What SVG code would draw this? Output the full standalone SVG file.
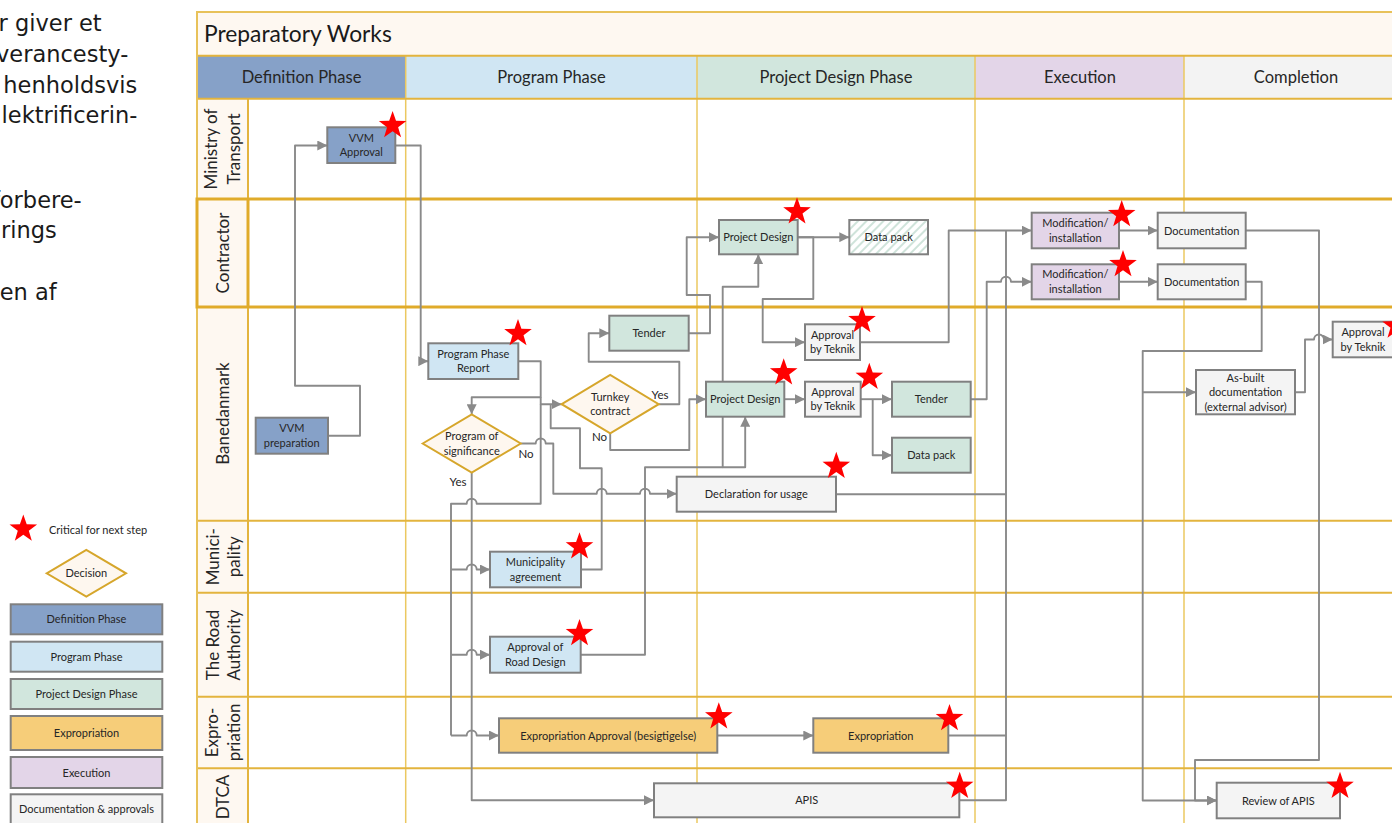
<svg xmlns="http://www.w3.org/2000/svg" width="1392" height="823" viewBox="0 0 1392 823">
<style>
.bx{stroke:#808080;stroke-width:2}
.def{fill:#86a1c8}.prog{fill:#d0e6f3}.pd{fill:#d1e6dd}.expr{fill:#f6cd79}.exe{fill:#e3d5e8}.doc{fill:#f4f4f4}
.dia{fill:#fef7ef;stroke:#d6a62b;stroke-width:2}
.t{font-family:Lato,"Liberation Sans",sans-serif;font-size:11px;fill:#262626;text-anchor:middle}
.lbl{font-family:Lato,"Liberation Sans",sans-serif;font-size:11.5px;fill:#262626;text-anchor:middle}
.hd{font-family:Lato,"Liberation Sans",sans-serif;font-size:16.5px;fill:#262626;text-anchor:middle}
.ln{font-family:Lato,"Liberation Sans",sans-serif;font-size:17px;fill:#262626;text-anchor:middle}
.dk{font-family:"DejaVu Sans",Verdana,sans-serif;font-size:22.5px;fill:#1a1a1a;text-anchor:end}
.con{fill:none;stroke:#8a8a8a;stroke-width:1.9;stroke-linejoin:round}
.lane{stroke:#e3b43e;stroke-width:2}
.col{stroke:#ebc860;stroke-width:1.5}
.star{fill:#ff0000}
</style>
<defs>
<marker id="arr" markerWidth="10" markerHeight="10" refX="10" refY="5" orient="auto" markerUnits="userSpaceOnUse">
<path d="M0,0 L10,5 L0,10 z" fill="#8a8a8a"/>
</marker>
<pattern id="hatch" width="6" height="6" patternUnits="userSpaceOnUse" patternTransform="rotate(45)">
<rect width="6" height="6" fill="#ffffff"/>
<line x1="1" y1="0" x2="1" y2="6" stroke="#cfe3da" stroke-width="2"/>
</pattern>
<path id="star" d="M0,-14.5 L3.41,-4.69 L13.79,-4.48 L5.52,1.79 L8.52,11.73 L0,5.8 L-8.52,11.73 L-5.52,1.79 L-13.79,-4.48 L-3.41,-4.69 Z"/>
</defs>

<g id="sidetext">
<text class="dk" x="101.7" y="31">r giver et</text>
<text class="dk" x="128.3" y="62">verancesty-</text>
<text class="dk" x="137.3" y="93">henholdsvis</text>
<text class="dk" x="137.3" y="123">lektrificerin-</text>
<text class="dk" x="81.7" y="208">forbere-</text>
<text class="dk" x="56.7" y="237.5">rings</text>
<text class="dk" x="56.7" y="300">en af</text>
</g>

<g id="frame">
<rect x="197" y="12" width="1210" height="820" fill="#ffffff"/>
<rect x="197" y="12" width="1210" height="43.7" fill="#fef8f1"/>
<rect x="197" y="98.7" width="51" height="730" fill="#fef8f1"/>
<rect x="197" y="55.7" width="208.7" height="43" fill="#86a1c8"/>
<rect x="405.7" y="55.7" width="291.3" height="43" fill="#d0e6f3"/>
<rect x="697" y="55.7" width="278" height="43" fill="#d1e6dd"/>
<rect x="975" y="55.7" width="209" height="43" fill="#e3d5e8"/>
<rect x="1184" y="55.7" width="220" height="43" fill="#f3f3f3"/>
<line class="col" x1="405.7" y1="55.7" x2="405.7" y2="823"/>
<line class="col" x1="697" y1="55.7" x2="697" y2="823"/>
<line class="col" x1="975" y1="55.7" x2="975" y2="823"/>
<line class="col" x1="1184" y1="55.7" x2="1184" y2="823"/>
<line class="lane" x1="248" y1="98.7" x2="248" y2="823"/>
<line class="lane" x1="197" y1="55.7" x2="1400" y2="55.7"/>
<line class="lane" x1="197" y1="98.7" x2="1400" y2="98.7"/>
<line class="lane" x1="197" y1="520.7" x2="1400" y2="520.7"/>
<line class="lane" x1="197" y1="592.7" x2="1400" y2="592.7"/>
<line class="lane" x1="197" y1="696.7" x2="1400" y2="696.7"/>
<line class="lane" x1="197" y1="768.3" x2="1400" y2="768.3"/>
<rect x="197" y="12" width="1210" height="820" fill="none" stroke="#e8c25a" stroke-width="2"/>
<rect x="197" y="199" width="1210" height="108" fill="none" stroke="#e0ab2a" stroke-width="3"/>
<line x1="248" y1="199" x2="248" y2="307" stroke="#e0ab2a" stroke-width="3"/>
<text x="204" y="41.5" font-family="Lato, 'Liberation Sans', sans-serif" font-size="22.8" fill="#1a1a1a">Preparatory Works</text>
<text class="hd" x="301.5" y="82.5">Definition Phase</text>
<text class="hd" x="551.5" y="82.5">Program Phase</text>
<text class="hd" x="836" y="82.5">Project Design Phase</text>
<text class="hd" x="1080" y="82.5">Execution</text>
<text class="hd" x="1296" y="82.5">Completion</text>
<text class="ln" transform="translate(217,149) rotate(-90)">Ministry of</text>
<text class="ln" transform="translate(239.5,149) rotate(-90)">Transport</text>
<text class="ln" transform="translate(228.5,253) rotate(-90)">Contractor</text>
<text class="ln" transform="translate(228.5,413.5) rotate(-90)">Banedanmark</text>
<text class="ln" transform="translate(219,556.7) rotate(-90)">Munici-</text>
<text class="ln" transform="translate(239.5,556.7) rotate(-90)">pality</text>
<text class="ln" transform="translate(219,645) rotate(-90)">The Road</text>
<text class="ln" transform="translate(239.5,645) rotate(-90)">Authority</text>
<text class="ln" transform="translate(217.5,732.5) rotate(-90)">Expro-</text>
<text class="ln" transform="translate(239.5,732.5) rotate(-90)">priation</text>
<text class="ln" transform="translate(228.5,797) rotate(-90)">DTCA</text>
</g>

<g id="connectors">
<path class="con" marker-end="url(#arr)" d="M328,435.7 H360 V385.7 H295 V145.5 H327.3"/>
<path class="con" marker-end="url(#arr)" d="M395.3,145.5 H420.7 V361.2 H428.3"/>
<path class="con" marker-end="url(#arr)" d="M518.3,361.2 H540.7 V397.3 H471.7 V414.3"/>
<path class="con" marker-end="url(#arr)" d="M540.7,397.3 V404.2 H561.7"/>
<path class="con" d="M540.7,404.2 V503.8 H476.7 A5,5 0 0 0 466.7,503.8 H451 V735.5"/>
<path class="con" marker-end="url(#arr)" d="M451,569.5 H466.7 A5,5 0 0 1 476.7,569.5 H490"/>
<path class="con" marker-end="url(#arr)" d="M451,654.7 H466.7 A5,5 0 0 1 476.7,654.7 H490"/>
<path class="con" marker-end="url(#arr)" d="M451,735.5 H466.7 A5,5 0 0 1 476.7,735.5 H499"/>
<path class="con" marker-end="url(#arr)" d="M471.7,472.7 V800.3 H654"/>
<path class="con" marker-end="url(#arr)" d="M520.7,443.5 H535.7 A5,5 0 0 1 545.7,443.5 H553.3 V493.8 H596.7 A5,5 0 0 1 606.7,493.8 H640 A5,5 0 0 1 650,493.8 H676.7"/>
<path class="con" d="M581,569.5 H601.7 V468.3 H580 V428.3 H550.7 V404.2"/>
<path class="con" marker-end="url(#arr)" d="M580.7,654.7 H645 V467.3 H722.7 V286.7 H758.3 V254.3"/>
<path class="con" marker-end="url(#arr)" d="M722.7,467.3 H745.2 V416.7"/>
<path class="con" marker-end="url(#arr)" d="M658.7,404.2 H679.3 V361.7 H588.7 V333.2 H609.3"/>
<path class="con" marker-end="url(#arr)" d="M610.2,433.4 V450 H689.3 V399.2 H706"/>
<path class="con" marker-end="url(#arr)" d="M688.7,333.2 H710 V295 H686.7 V237.2 H719"/>
<path class="con" marker-end="url(#arr)" d="M797.7,237.2 H849.3"/>
<path class="con" marker-end="url(#arr)" d="M797.7,237.2 H813.3 V299 H762.7 V342.2 H805"/>
<path class="con" marker-end="url(#arr)" d="M784.3,399.2 H805"/>
<path class="con" marker-end="url(#arr)" d="M860.7,399.2 H892"/>
<path class="con" marker-end="url(#arr)" d="M872.7,399.2 V455.2 H892"/>
<path class="con" marker-end="url(#arr)" d="M860,342.2 H948.7 V230.5 H1031.7"/>
<path class="con" marker-end="url(#arr)" d="M970.7,399.2 H986.7 V281.8 H1001 A5,5 0 0 1 1011,281.8 H1031.7"/>
<path class="con" d="M836,494.2 H1006"/>
<path class="con" d="M948.3,735.5 H1006"/>
<path class="con" d="M959.3,800.3 H1006 V230.5"/>
<path class="con" marker-end="url(#arr)" d="M717.3,735.5 H813.3"/>
<path class="con" marker-end="url(#arr)" d="M1119,230.5 H1157.7"/>
<path class="con" marker-end="url(#arr)" d="M1119,281.8 H1157.7"/>
<path class="con" marker-end="url(#arr)" d="M1245.7,230.5 H1319 V760 H1195 V800.5 H1216.7"/>
<path class="con" marker-end="url(#arr)" d="M1245.7,281.8 H1261.7 V351 H1142.7 V800.5 H1216.7"/>
<path class="con" marker-end="url(#arr)" d="M1142.7,392.2 H1196"/>
<path class="con" marker-end="url(#arr)" d="M1295,392.2 H1305 V339.5 H1314 A5,5 0 0 1 1324,339.5 H1332.7"/>
</g>

<g id="vvm-approval"><rect class="bx def" x="327.3" y="127.3" width="68" height="35.7"/><text class="t" x="361.3" y="141.7">VVM</text><text class="t" x="361.3" y="156">Approval</text></g>
<g id="vvm-preparation"><rect class="bx def" x="255.7" y="417.7" width="72.3" height="36"/><text class="t" x="291.8" y="432">VVM</text><text class="t" x="291.8" y="446.5">preparation</text></g>
<g id="program-phase-report"><rect class="bx prog" x="428.3" y="343.3" width="90" height="35.7"/><text class="t" x="473.3" y="357.7">Program Phase</text><text class="t" x="473.3" y="372.2">Report</text></g>
<g id="program-of-significance"><path class="dia" d="M422.7,443.5 L471.7,414.3 L520.7,443.5 L471.7,472.7 Z"/><text class="t" x="471.7" y="440">Program of</text><text class="t" x="471.7" y="454.5">significance</text></g>
<g id="turnkey-contract"><path class="dia" d="M561.7,404.2 L610.2,375 L658.7,404.2 L610.2,433.4 Z"/><text class="t" x="610.2" y="400.7">Turnkey</text><text class="t" x="610.2" y="415.2">contract</text></g>
<g id="tender-1"><rect class="bx pd" x="609.3" y="315.7" width="79.4" height="35"/><text class="t" x="649" y="337.2">Tender</text></g>
<g id="project-design-contractor"><rect class="bx pd" x="719" y="220" width="78.7" height="34.3"/><text class="t" x="758.3" y="241.2">Project Design</text></g>
<g id="data-pack-contractor"><rect class="bx" fill="url(#hatch)" x="849.3" y="220" width="78.7" height="34.3"/><text class="t" x="888.7" y="241.2">Data pack</text></g>
<g id="approval-teknik-1"><rect class="bx doc" x="805" y="324.3" width="55" height="35.7"/><text class="t" x="832.5" y="338.7">Approval</text><text class="t" x="832.5" y="353.2">by Teknik</text></g>
<g id="project-design-bdk"><rect class="bx pd" x="706" y="381.7" width="78.3" height="35"/><text class="t" x="745.2" y="403.2">Project Design</text></g>
<g id="approval-teknik-2"><rect class="bx doc" x="805" y="381.7" width="55.7" height="35"/><text class="t" x="832.8" y="395.7">Approval</text><text class="t" x="832.8" y="410.2">by Teknik</text></g>
<g id="tender-2"><rect class="bx pd" x="892" y="381.7" width="78.7" height="35"/><text class="t" x="931.3" y="403.2">Tender</text></g>
<g id="data-pack-bdk"><rect class="bx pd" x="892" y="437.7" width="78.7" height="35"/><text class="t" x="931.3" y="459.2">Data pack</text></g>
<g id="declaration-for-usage"><rect class="bx doc" x="676.7" y="476.7" width="159.3" height="35"/><text class="t" x="756.3" y="498.2">Declaration for usage</text></g>
<g id="municipality-agreement"><rect class="bx prog" x="490" y="551.7" width="91" height="35.6"/><text class="t" x="535.5" y="566">Municipality</text><text class="t" x="535.5" y="580.5">agreement</text></g>
<g id="approval-road-design"><rect class="bx prog" x="490" y="636.7" width="90.7" height="36"/><text class="t" x="535.3" y="651.2">Approval of</text><text class="t" x="535.3" y="665.7">Road Design</text></g>
<g id="expropriation-approval"><rect class="bx expr" x="499" y="718.3" width="218.3" height="34.4"/><text class="t" x="608.2" y="739.5">Expropriation Approval (besigtigelse)</text></g>
<g id="expropriation"><rect class="bx expr" x="813.3" y="718.3" width="135" height="34.4"/><text class="t" x="880.8" y="739.5">Expropriation</text></g>
<g id="apis"><rect class="bx doc" x="654" y="783.3" width="305.3" height="34"/><text class="t" x="806.7" y="804.3">APIS</text></g>
<g id="modification-1"><rect class="bx exe" x="1031.7" y="212.7" width="87.3" height="35.6"/><text class="t" x="1075.3" y="227">Modification/</text><text class="t" x="1075.3" y="241.5">installation</text></g>
<g id="modification-2"><rect class="bx exe" x="1031.7" y="264.3" width="87.3" height="35"/><text class="t" x="1075.3" y="278.3">Modification/</text><text class="t" x="1075.3" y="292.8">installation</text></g>
<g id="documentation-1"><rect class="bx doc" x="1157.7" y="212.7" width="88" height="35.6"/><text class="t" x="1201.7" y="234.5">Documentation</text></g>
<g id="documentation-2"><rect class="bx doc" x="1157.7" y="264.3" width="88" height="35"/><text class="t" x="1201.7" y="285.8">Documentation</text></g>
<g id="as-built"><rect class="bx doc" x="1196" y="370" width="99" height="44.3"/><text class="t" x="1245.5" y="381.5">As-built</text><text class="t" x="1245.5" y="396">documentation</text><text class="t" x="1245.5" y="410.5">(external advisor)</text></g>
<g id="approval-teknik-3"><rect class="bx doc" x="1332.7" y="321.7" width="62" height="35.6"/><text class="t" x="1363" y="336">Approval</text><text class="t" x="1363" y="350.5">by Teknik</text></g>
<g id="review-of-apis"><rect class="bx doc" x="1216.7" y="782.7" width="123.3" height="35.6"/><text class="t" x="1278.3" y="804.5">Review of APIS</text></g>

<g id="decision-labels">
<text class="lbl" x="526" y="458">No</text>
<text class="lbl" x="458" y="485.5">Yes</text>
<text class="lbl" x="660" y="399">Yes</text>
<text class="lbl" x="599.5" y="441">No</text>
</g>

<g id="stars" class="star">
<use href="#star" x="392.6" y="125.5"/>
<use href="#star" x="518" y="333.5"/>
<use href="#star" x="797" y="211.8"/>
<use href="#star" x="862" y="320.5"/>
<use href="#star" x="783.7" y="372.8"/>
<use href="#star" x="869.3" y="377.2"/>
<use href="#star" x="836.3" y="466.2"/>
<use href="#star" x="1121.7" y="214.5"/>
<use href="#star" x="1123" y="264.5"/>
<use href="#star" x="579.5" y="546.8"/>
<use href="#star" x="579.5" y="633.5"/>
<use href="#star" x="718.8" y="716.8"/>
<use href="#star" x="949.5" y="718.5"/>
<use href="#star" x="959.7" y="786.2"/>
<use href="#star" x="1340" y="786.2"/>
<use href="#star" x="1396" y="326"/>
</g>

<g id="legend">
<use href="#star" x="23.3" y="529" fill="#ff0000"/>
<text x="49" y="534" font-family="Lato, 'Liberation Sans', sans-serif" font-size="11" fill="#262626">Critical for next step</text>
<path class="dia" d="M46.7,573.3 L86.3,550 L126,573.3 L86.3,596.7 Z"/>
<text class="t" x="86.3" y="577.3">Decision</text>
<rect class="bx def" x="10.7" y="604.3" width="151.6" height="30"/><text class="t" x="86.5" y="623">Definition Phase</text>
<rect class="bx prog" x="10.7" y="641.7" width="151.6" height="30"/><text class="t" x="86.5" y="660.5">Program Phase</text>
<rect class="bx pd" x="10.7" y="679" width="151.6" height="30"/><text class="t" x="86.5" y="698">Project Design Phase</text>
<rect class="bx expr" x="10.7" y="716" width="151.6" height="34"/><text class="t" x="86.5" y="737">Expropriation</text>
<rect class="bx exe" x="10.7" y="757" width="151.6" height="31"/><text class="t" x="86.5" y="776.5">Execution</text>
<rect class="bx doc" x="10.7" y="794.3" width="151.6" height="30"/><text class="t" x="86.5" y="813">Documentation &amp; approvals</text>
</g>
</svg>
